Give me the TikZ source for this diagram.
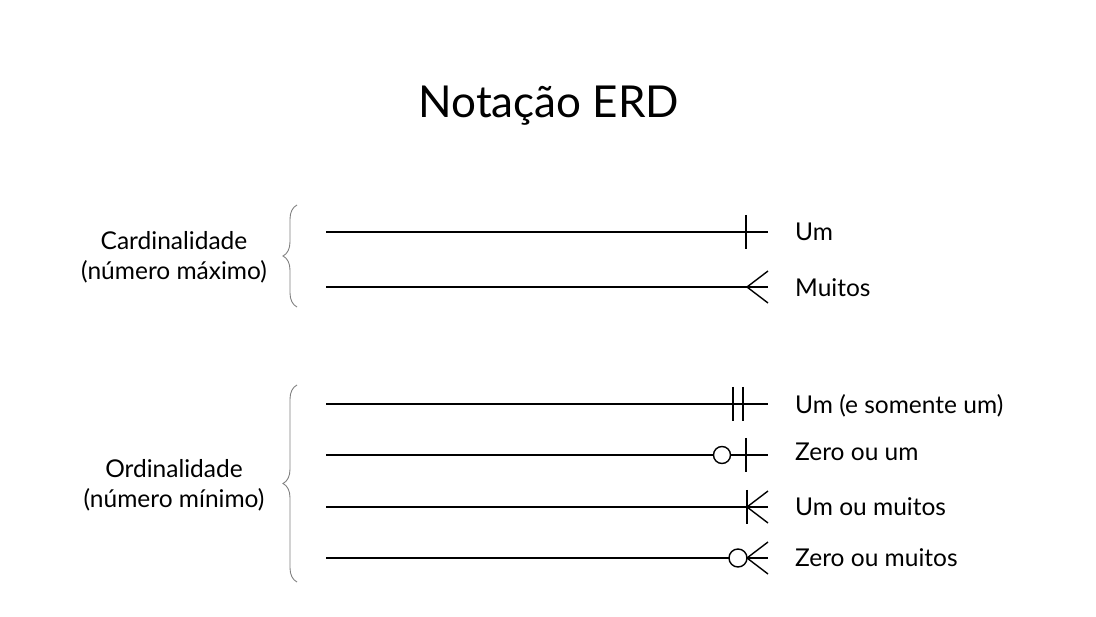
\documentclass[tikz,border=0pt]{standalone}
\usepackage{fontspec}
\setmainfont{Lato}
\usetikzlibrary{positioning,decorations.pathreplacing}

\begin{document}
\begin{tikzpicture}[x=1pt, y=-1pt,
    endtext/.style={font=\fontsize{24.5}{30}\selectfont, anchor=base west, inner sep=0pt},
    grouptext/.style={font=\fontsize{24.5}{30}\selectfont, align=center, inner sep=0pt},
    relline/.style={line width=1.4pt},
    bracket/.style={draw=gray, line width=0.9pt, decorate, decoration={brace, amplitude=14pt}}]
  \useasboundingbox (0,0) rectangle (1096,617);
  % Title
  \node [font=\fontsize{44}{50}\selectfont, anchor=base, inner sep=0pt] (title) at (549,118) {Notação ERD};
  % Groups
  \node [grouptext] (card) at (174,257) {Cardinalidade\\(número máximo)};
  \node [grouptext] (ord) at (174,485) {Ordinalidade\\(número mínimo)};
  \draw [bracket] (297,307) -- (297,205);
  \draw [bracket] (297,582) -- (297,385);
  % Line ends
  \coordinate (a1) at (326,232); \coordinate (b1) at (768,232);
  \coordinate (a2) at (326,287); \coordinate (b2) at (768,287);
  \coordinate (a3) at (326,404); \coordinate (b3) at (768,404);
  \coordinate (a4) at (326,455); \coordinate (b4) at (768,455);
  \coordinate (a5) at (326,507); \coordinate (b5) at (768,507);
  \coordinate (a6) at (326,558); \coordinate (b6) at (768,558);
  % Labels
  \node [endtext] (um) at (795,241) {Um};
  \node [endtext] (muitos) at (795,297) {Muitos};
  \node [endtext] (umsomente) at (795,414) {Um (e somente um)};
  \node [endtext] (zeroum) at (795,461) {Zero ou um};
  \node [endtext] (ummuitos) at (795,516) {Um ou muitos};
  \node [endtext] (zeromuitos) at (795,567) {Zero ou muitos};
  % Relationship lines
  \draw [relline] (a1) -- (b1);
  \draw [relline] (746,215) -- (746,249);
  \draw [relline] (a2) -- (b2);
  \draw [relline] (768,271) -- (747,287) -- (768,303);
  \draw [relline] (a3) -- (b3);
  \draw [relline] (733,387) -- (733,421) (743,387) -- (743,421);
  \draw [relline] (a4) -- (713.5,455) (730.5,455) -- (b4);
  \draw [relline] (722,455) circle (8.5);
  \draw [relline] (746,438) -- (746,472);
  \draw [relline] (a5) -- (b5);
  \draw [relline] (747,490) -- (747,524);
  \draw [relline] (768,491) -- (747,507) -- (768,523);
  \draw [relline] (a6) -- (729,558) (747,558) -- (b6);
  \draw [relline] (738,558) circle (9);
  \draw [relline] (768,542) -- (747,558) -- (768,574);
\end{tikzpicture}
\end{document}
